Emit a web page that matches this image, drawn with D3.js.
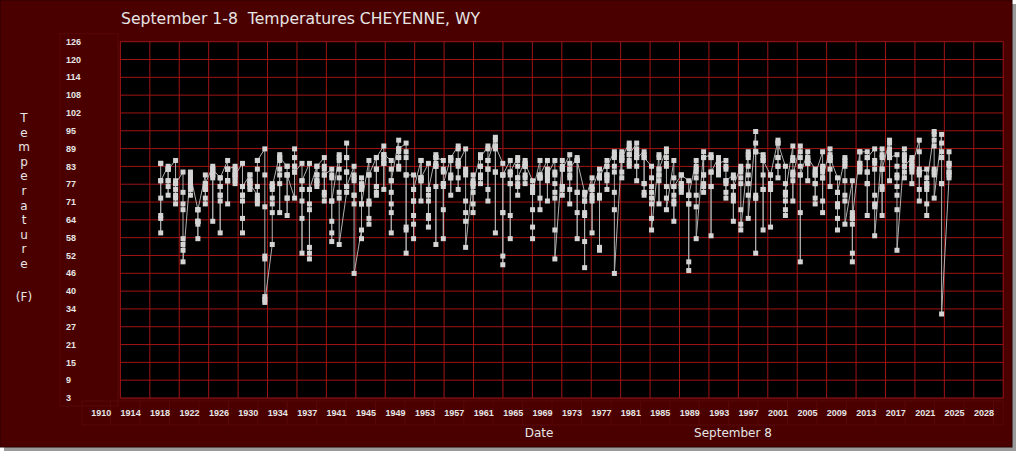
<!DOCTYPE html>
<html><head><meta charset="utf-8">
<script src="https://cdn.jsdelivr.net/npm/d3@7"></script>
<style>
html,body{margin:0;padding:0;background:#ffffff;}
svg{display:block;}
text{white-space:pre;}
</style></head>
<body>
<div id="chart"></div>
<script>
const title = "September 1-8  Temperatures CHEYENNE, WY";
const xTickLabels = ["1910","1914","1918","1922","1926","1930","1934","1937","1941","1945","1949","1953","1957","1961","1965","1969","1973","1977","1981","1985","1989","1993","1997","2001","2005","2009","2013","2017","2021","2025","2028"];
const yTickLabels = ["3","9","15","21","27","34","40","46","52","58","64","71","77","83","89","95","102","108","114","120","126"];
const yAxisTitle = ["T","e","m","p","e","r","a","t","u","r","e"];
const years = [1918,1919,1920,1921,1922,1923,1924,1925,1926,1927,1928,1929,1930,1931,1932,1933,1934,1935,1936,1937,1938,1939,1940,1941,1942,1943,1944,1945,1946,1947,1948,1949,1950,1951,1952,1953,1954,1955,1956,1957,1958,1959,1960,1961,1962,1963,1964,1965,1966,1967,1968,1969,1970,1971,1972,1973,1974,1975,1976,1977,1978,1979,1980,1981,1982,1983,1984,1985,1986,1987,1988,1989,1990,1991,1992,1993,1994,1995,1996,1997,1998,1999,2000,2001,2002,2003,2004,2005,2006,2007,2008,2009,2010,2011,2012,2013,2014,2015,2016,2017,2018,2019,2020,2021,2022,2023,2024];
// daily temperatures Sept 1..8 for each year (F)
const temps = [
[84,84,78,72,65,66,60,78],
[83,82,82,78,76,73,78,82],
[85,78,77,75,73,72,70,77],
[81,74,70,68,58,56,54,50],
[81,79,78,77,76,75,73,80],
[68,68,64,64,63,58,64,68],
[80,77,76,75,72,70,75,77],
[83,82,81,80,79,64,80,82],
[79,76,73,71,60,73,76,79],
[85,82,82,78,78,70,78,82],
[83,82,81,80,79,78,77,80],
[84,76,73,71,65,60,73,76],
[80,78,77,76,75,78,80,77],
[73,76,71,70,72,82,85,85],
[89,80,69,52,51,38,37,36],
[56,67,70,72,75,76,77,76],
[87,86,85,82,80,77,67,86],
[83,83,80,80,72,72,66,80],
[72,81,83,86,89,86,83,81],
[84,78,75,71,65,53,75,78],
[84,75,70,68,55,53,51,75],
[83,80,78,77,76,78,80,83],
[86,83,82,80,74,73,71,80],
[82,80,79,71,64,60,57,71],
[87,86,85,82,79,74,72,56],
[74,76,81,86,91,86,81,76],
[83,80,79,78,73,70,73,46],
[61,58,70,75,77,79,76,70],
[85,80,71,70,65,63,70,80],
[86,82,76,74,73,76,82,86],
[90,87,86,85,84,75,84,87],
[85,82,78,74,70,67,60,78],
[92,89,88,86,83,82,86,89],
[91,88,86,80,62,61,53,80],
[80,75,71,66,63,58,71,75],
[85,79,78,71,78,79,85,79],
[84,75,73,71,66,65,62,75],
[87,86,84,83,76,56,83,86],
[85,82,81,77,76,68,58,77],
[86,85,80,79,73,79,85,86],
[90,89,85,84,83,79,75,84],
[89,82,81,80,71,67,64,55],
[80,78,77,76,74,70,67,77],
[87,86,83,80,79,77,83,86],
[90,89,85,82,75,71,82,85],
[93,92,90,89,81,60,81,90],
[84,80,80,67,52,49,67,80],
[85,81,80,77,66,58,77,81],
[86,85,83,79,77,76,73,79],
[85,84,83,80,79,77,83,84],
[78,76,75,74,68,62,58,74],
[85,80,79,79,72,68,79,80],
[85,82,81,80,79,78,71,80],
[85,81,80,77,74,72,61,51],
[85,83,82,76,75,73,76,82],
[87,84,82,80,79,75,70,82],
[86,85,85,74,67,58,74,85],
[74,73,71,67,66,57,48,71],
[79,76,75,73,72,71,60,75],
[82,80,79,73,72,55,54,79],
[85,83,80,79,78,75,80,83],
[88,87,86,83,81,74,68,46],
[88,87,86,85,81,79,85,86],
[91,90,89,87,85,84,83,87],
[91,89,88,87,86,83,78,86],
[88,87,86,77,74,73,77,86],
[83,79,76,74,72,70,65,61],
[87,86,82,80,78,70,80,82],
[89,88,86,84,83,76,72,68],
[85,79,76,73,71,70,64,76],
[80,77,76,75,74,76,77,80],
[78,73,73,70,50,47,70,73],
[85,83,82,81,79,73,69,58],
[88,86,80,77,76,74,80,86],
[87,86,86,81,76,59,76,81],
[86,85,84,83,82,81,80,84],
[85,83,82,78,77,74,72,78],
[80,79,76,73,72,71,64,76],
[83,82,81,79,77,68,63,61],
[88,87,86,83,80,77,73,65],
[95,91,88,73,72,53,72,88],
[87,86,85,80,75,61,75,85],
[80,77,76,75,62,75,77,80],
[92,91,86,83,79,83,86,91],
[83,77,74,73,71,68,66,74],
[90,86,85,81,80,78,71,80],
[90,88,86,83,80,67,50,80],
[88,86,85,84,78,84,85,86],
[82,81,80,77,72,70,77,80],
[88,83,82,81,79,71,67,79],
[89,87,86,85,82,76,85,86],
[79,74,70,69,65,61,70,74],
[86,85,84,83,78,73,71,63],
[78,67,66,65,63,53,50,65],
[88,84,83,82,81,82,84,88],
[88,86,81,77,66,77,81,86],
[89,85,84,82,73,70,69,59],
[89,87,86,82,76,75,66,82],
[92,91,89,88,87,86,78,86],
[87,83,80,79,76,73,68,54],
[89,87,86,85,83,81,79,83],
[86,85,84,83,82,81,77,83],
[92,88,82,81,80,75,71,81],
[82,79,77,76,75,70,66,77],
[95,94,92,90,82,81,80,72],
[94,91,88,86,86,77,77,32],
[79,80,81,83,84,88,84,81]
];

const W = 1024, H = 454;
const bg = "#4b0000", gridColor = "#a01414", textColor = "#e6e6e6";

const svg = d3.select("#chart").append("svg").attr("width", W).attr("height", H);

// outer panel with shadow
svg.append("rect").attr("x",4).attr("y",4).attr("width",1012).attr("height",447).attr("fill","#9a9a9a");
svg.append("rect").attr("x",0).attr("y",0).attr("width",1012).attr("height",447).attr("fill",bg).attr("stroke","#2a0000").attr("stroke-width",1);

const xTickVals = xTickLabels.map((d,i)=> 1910 + i*(118.7/30));
const x = d3.scaleLinear().domain([1910, 2028.7]).range([101.2, 984]);
const gridShift = 19.2;
const yTickVals = yTickLabels.map((d,i)=> 3 + i*(123/20));
const y = d3.scaleLinear().domain([3,126]).range([398, 41.7]);

const plotL = x(1910)+gridShift, plotR = x(2028.7)+gridShift;
const plotT = y(126), plotB = y(3);

// label cell borders (faint)
const cells = svg.append("g").attr("stroke","#580808").attr("stroke-width",1).attr("fill","none");
cells.append("rect").attr("x", x(1910)-gridShift).attr("y", plotB+3).attr("width", plotR-(x(1910)-gridShift)).attr("height", 24);
xTickVals.forEach(v=>{
  cells.append("line").attr("x1", x(v)+gridShift-9.7).attr("x2", x(v)+gridShift-9.7).attr("y1", plotB+3).attr("y2", plotB+27);
});
cells.append("rect").attr("x", 60).attr("y", plotT-8).attr("width", 58).attr("height", plotB-plotT+16);

// plot background
svg.append("rect").attr("x",plotL).attr("y",plotT).attr("width",plotR-plotL).attr("height",plotB-plotT).attr("fill","#000000");

// grid
const grid = svg.append("g").attr("stroke",gridColor).attr("stroke-width",1);
xTickVals.forEach(v=>{
  const gx = x(v)+gridShift;
  grid.append("line").attr("x1",gx).attr("x2",gx).attr("y1",plotT).attr("y2",plotB);
});
yTickVals.forEach(v=>{
  grid.append("line").attr("x1",plotL).attr("x2",plotR).attr("y1",y(v)).attr("y2",y(v));
});

// x tick labels
svg.append("g").selectAll("text").data(xTickVals).join("text")
  .attr("x", d=>x(d)).attr("y", plotB+18)
  .attr("text-anchor","middle").attr("fill",textColor)
  .attr("font-family","Liberation Sans, Arial, sans-serif").attr("font-size",9).attr("font-weight","bold")
  .text((d,i)=>xTickLabels[i]);

// y tick labels
svg.append("g").selectAll("text").data(yTickVals).join("text")
  .attr("x", 66).attr("y", d=>y(d)).attr("dy","0.35em")
  .attr("text-anchor","start").attr("fill",textColor)
  .attr("font-family","Liberation Sans, Arial, sans-serif").attr("font-size",9).attr("font-weight","bold")
  .text((d,i)=>yTickLabels[i]);

// title
svg.append("text").attr("x",121).attr("y",24).attr("fill",textColor)
  .attr("font-family","DejaVu Sans, sans-serif").attr("font-size",16.5)
  .attr("textLength",359).attr("lengthAdjust","spacingAndGlyphs")
  .text(title);

// y axis title, stacked letters
svg.append("g").selectAll("text").data(yAxisTitle).join("text")
  .attr("x",24).attr("y",(d,i)=>122 + i*14.6).attr("text-anchor","middle")
  .attr("fill",textColor).attr("font-family","DejaVu Sans, sans-serif").attr("font-size",12)
  .text(d=>d);
svg.append("text").attr("x",24).attr("y",301).attr("text-anchor","middle")
  .attr("fill",textColor).attr("font-family","DejaVu Sans, sans-serif").attr("font-size",12).text("(F)");

// x axis titles
svg.append("text").attr("x",539).attr("y",437).attr("text-anchor","middle")
  .attr("fill",textColor).attr("font-family","DejaVu Sans, sans-serif").attr("font-size",12).text("Date");
svg.append("text").attr("x",733).attr("y",437).attr("text-anchor","middle")
  .attr("fill",textColor).attr("font-family","DejaVu Sans, sans-serif").attr("font-size",12).text("September 8");

// data points
const pts = [];
years.forEach((yr,i)=>{ temps[i].forEach((t,j)=>{ pts.push({yr:yr, day:j+1, t:t}); }); });

const line = d3.line().x(d=>x(d.yr)).y(d=>y(d.t));
svg.append("path").datum(pts).attr("d", line).attr("fill","none")
  .attr("stroke","#b0b0b0").attr("stroke-width",1);

svg.append("g").selectAll("rect").data(pts).join("rect")
  .attr("x", d=>x(d.yr)-2.5).attr("y", d=>y(d.t)-2.5)
  .attr("width",5).attr("height",5)
  .attr("fill","#d4d4d4");
</script>
</body></html>
